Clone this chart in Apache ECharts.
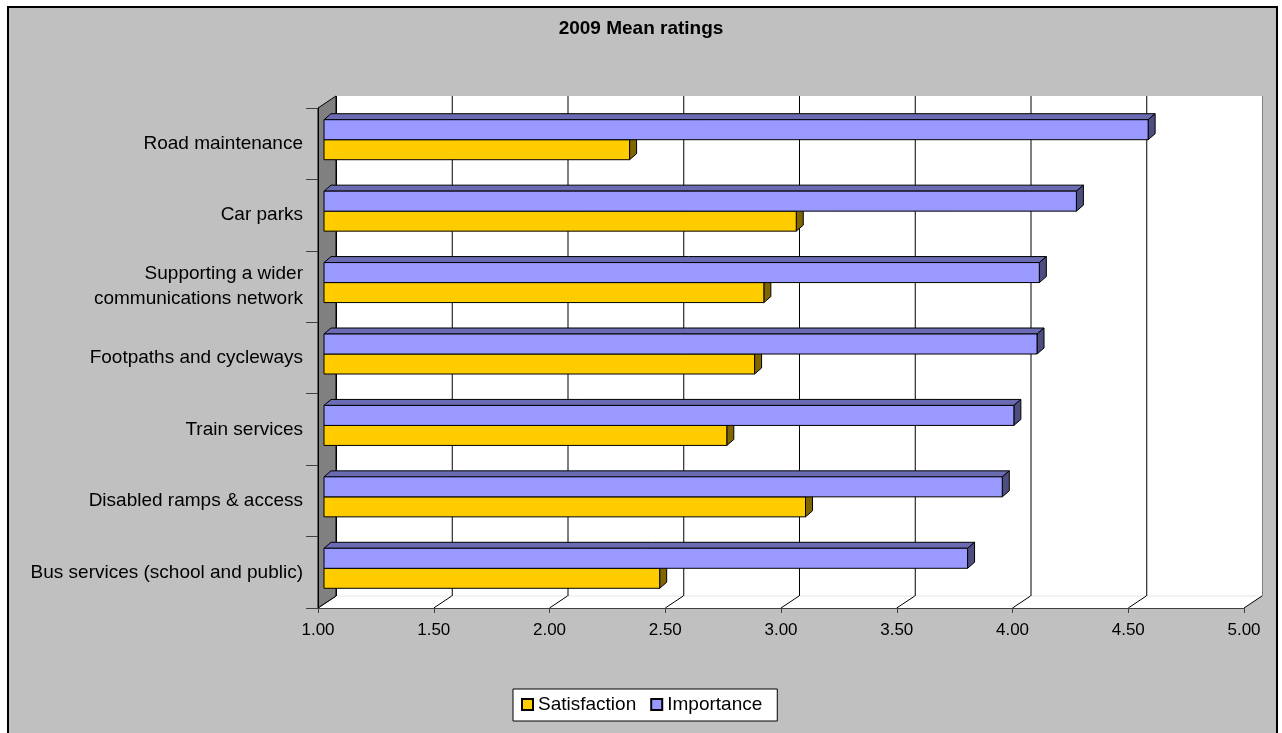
<!DOCTYPE html>
<html>
<head>
<meta charset="utf-8">
<title>2009 Mean ratings</title>
<script src="https://cdn.jsdelivr.net/npm/echarts@6/dist/echarts.min.js"></script>
<style>
  html, body { margin: 0; padding: 0; background: #ffffff; }
  #chart { width: 1282px; height: 733px; }
</style>
</head>
<body>
<div id="chart"></div>
<script>
// Rating categories, top to bottom
const categories = [
  'Road maintenance',
  'Car parks',
  'Supporting a wider\ncommunications network',
  'Footpaths and cycleways',
  'Train services',
  'Disabled ramps & access',
  'Bus services (school and public)'
];
// Mean ratings per category
const satisfaction = [2.32, 3.04, 2.90, 2.86, 2.74, 3.08, 2.45];
const importance   = [4.56, 4.25, 4.09, 4.08, 3.98, 3.93, 3.78];
// Value axis ticks
const tickValues = [1.0, 1.5, 2.0, 2.5, 3.0, 3.5, 4.0, 4.5, 5.0];

const AXIS_MIN = 1, AXIS_MAX = 5, AXIS_STEP = 0.5;
const FONT = '"Liberation Sans", Arial, sans-serif';

// Pseudo-3D geometry: depth vector of the plot box and of each bar
const DEPTH = [18, -12];
const BAR_OFF = [6, -4];
const BAR_DEPTH = [7, -6];

const palette = {
  Satisfaction: { front: '#FFCC00', top: '#B38F00', side: '#806600' },
  Importance:   { front: '#9999FF', top: '#6B6BB3', side: '#4D4D80' }
};

function barRenderer(name, upper) {
  const col = palette[name];
  return function (params, api) {
    const v = api.value(0), c = api.value(1);
    const start = api.coord([AXIS_MIN, c]);
    const end = api.coord([v, c]);
    const band = api.size([0, 1])[1];
    const h = band * 0.28;
    const yMid = start[1] + BAR_OFF[1];
    const y0 = upper ? yMid - h : yMid;
    const x0 = start[0] + BAR_OFF[0];
    const x1 = end[0] + BAR_OFF[0];
    const dx = BAR_DEPTH[0], dy = BAR_DEPTH[1];
    const stroke = { stroke: '#000', lineWidth: 1 };
    return {
      type: 'group',
      children: [
        { type: 'polygon',
          shape: { points: [[x0, y0], [x0 + dx, y0 + dy], [x1 + dx, y0 + dy], [x1, y0]] },
          style: Object.assign({ fill: col.top }, stroke) },
        { type: 'polygon',
          shape: { points: [[x1, y0], [x1 + dx, y0 + dy], [x1 + dx, y0 + h + dy], [x1, y0 + h]] },
          style: Object.assign({ fill: col.side }, stroke) },
        { type: 'rect',
          shape: { x: x0, y: y0, width: x1 - x0, height: h },
          style: Object.assign({ fill: col.front }, stroke) }
      ]
    };
  };
}

// Back wall, floor, side wall and value gridlines of the 3D box
function boxRenderer(params, api) {
  const cs = params.coordSys;
  const L = cs.x, T = cs.y, R = cs.x + cs.width, B = cs.y + cs.height;
  const dx = DEPTH[0], dy = DEPTH[1];
  const children = [
    { type: 'rect', shape: { x: L + dx, y: T + dy, width: R - L, height: B - T },
      style: { fill: '#ffffff' } },
    { type: 'polygon', shape: { points: [[L, B], [L + dx, B + dy], [R + dx, B + dy], [R, B]] },
      style: { fill: '#ffffff' } },
    { type: 'line', shape: { x1: L + dx, y1: B + dy, x2: R + dx, y2: B + dy },
      style: { stroke: '#e4e4e4', lineWidth: 1 } }
  ];
  tickValues.forEach(function (t) {
    const x = api.coord([t, 0])[0];
    const last = t === AXIS_MAX;
    children.push({ type: 'line',
      shape: { x1: x + dx + 0.5, y1: T + dy, x2: x + dx + 0.5, y2: B + dy },
      style: { stroke: last ? '#808080' : '#000', lineWidth: 1 } });
    children.push({ type: 'line',
      shape: { x1: x + dx, y1: B + dy, x2: x, y2: B },
      style: { stroke: '#000', lineWidth: 1 } });
  });
  children.push({ type: 'polygon',
    shape: { points: [[L, T], [L + dx, T + dy], [L + dx, B + dy], [L, B]] },
    style: { fill: '#808080', stroke: '#000', lineWidth: 1 } });
  return { type: 'group', children: children };
}

const chart = echarts.init(document.getElementById('chart'), null, { renderer: 'canvas' });

chart.setOption({
  animation: false,
  backgroundColor: 'transparent',
  graphic: [{
    type: 'rect', z: -100, silent: true,
    shape: { x: 8, y: 7, width: 1269, height: 740 },
    style: { fill: '#C0C0C0', stroke: '#000', lineWidth: 2 }
  }],
  title: {
    text: '2009 Mean ratings',
    left: 'center', top: 14,
    textStyle: { fontFamily: FONT, fontSize: 19, fontWeight: 'bold', color: '#000' }
  },
  legend: {
    data: ['Satisfaction', 'Importance'],
    left: 513, top: 689,
    padding: [6, 15, 7, 8],
    itemGap: 14,
    itemWidth: 11, itemHeight: 11,
    icon: 'rect',
    backgroundColor: '#ffffff',
    borderColor: '#000', borderWidth: 1,
    textStyle: { fontFamily: FONT, fontSize: 19, color: '#000' }
  },
  grid: { left: 318, right: 38, top: 108, bottom: 125, containLabel: false },
  xAxis: {
    type: 'value', min: AXIS_MIN, max: AXIS_MAX, interval: AXIS_STEP, z: 5,
    axisLine: { show: true, lineStyle: { color: '#404040', width: 1 } },
    axisTick: { show: true, length: 5, lineStyle: { color: '#404040' } },
    splitLine: { show: false },
    axisLabel: {
      margin: 14, color: '#000', fontFamily: FONT, fontSize: 17,
      formatter: function (v) { return v.toFixed(2); }
    }
  },
  yAxis: {
    type: 'category', data: categories, inverse: true, z: 5,
    axisLine: { show: true, lineStyle: { color: '#000', width: 1 } },
    axisTick: { show: true, length: 12, lineStyle: { color: '#404040' } },
    axisLabel: {
      margin: 15, color: '#000', fontFamily: FONT, fontSize: 19, lineHeight: 25,
      align: 'right'
    }
  },
  series: [
    { type: 'custom', name: 'box', z: 1, silent: true,
      renderItem: boxRenderer, data: [[AXIS_MIN, 0]], clip: false },
    { type: 'custom', name: 'Satisfaction', z: 2,
      itemStyle: { color: palette.Satisfaction.front, borderColor: '#000', borderWidth: 1 },
      renderItem: barRenderer('Satisfaction', false),
      data: satisfaction.map(function (v, i) { return [v, i]; }) },
    { type: 'custom', name: 'Importance', z: 2,
      itemStyle: { color: palette.Importance.front, borderColor: '#000', borderWidth: 1 },
      renderItem: barRenderer('Importance', true),
      data: importance.map(function (v, i) { return [v, i]; }) }
  ]
});
</script>
</body>
</html>
